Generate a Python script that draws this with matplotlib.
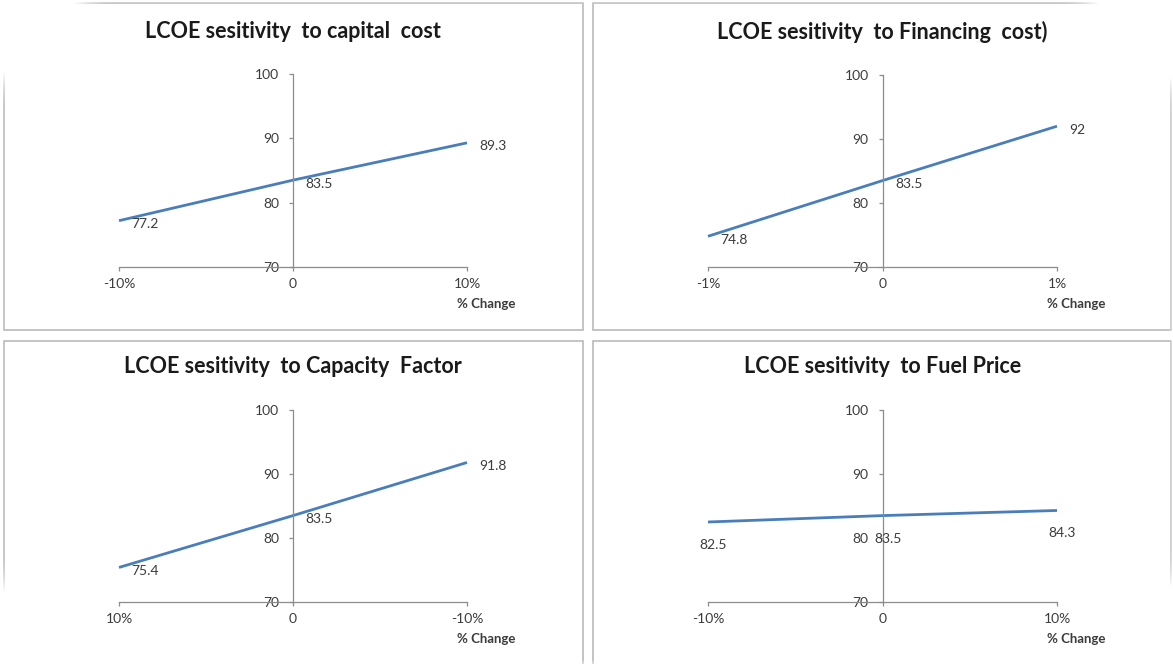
"""
LCOE sensitivity panels
"""
import matplotlib
matplotlib.use("Agg")
import matplotlib.pyplot as plt
from matplotlib.patches import Rectangle
import numpy as np

titles = ["LCOE sesitivity  to capital  cost",
          "LCOE sesitivity  to Financing  cost)",
          "LCOE sesitivity  to Capacity  Factor",
          "LCOE sesitivity  to Fuel Price"]
xlabels_cap = ["-10%", "0", "10%"]
xlabels_fin = ["-1%", "0", "1%"]
xlabels_cf = ["10%", "0", "-10%"]
xlabels_fuel = ["-10%", "0", "10%"]
lcoe_cap = [77.2, 83.5, 89.3]
lcoe_fin = [74.8, 83.5, 92]
lcoe_cf = [75.4, 83.5, 91.8]
lcoe_fuel = [82.5, 83.5, 84.3]
yticks = [70, 80, 90, 100]

W, H = 1173, 664
plt.rcParams['font.family'] = ['Lato', 'DejaVu Sans']

fig = plt.figure(figsize=(W / 100, H / 100), dpi=100)
fig.patch.set_facecolor("white")

# panel frames, in pixels (x0, y0 from top, x1, y1)
frames = [(4, 3, 582.5, 330), (593, 3, 1171, 330),
          (4, 341, 582.5, 700), (593, 341, 1171, 700)]
for x0, y0, x1, y1 in frames:
    fig.patches.append(Rectangle((x0 / W, 1 - y1 / H), (x1 - x0) / W, (y1 - y0) / H,
                                 transform=fig.transFigure, fill=False,
                                 edgecolor="#b4b4b4", linewidth=1.1))

# plot areas: left px, right px, y of 70, y of 100
areas = [(119, 467, 267, 74), (708, 1057, 267, 75),
         (119, 467, 602, 410), (708, 1057, 602, 410)]
panels = [(lcoe_cap, xlabels_cap, "right"),
          (lcoe_fin, xlabels_fin, "right"),
          (lcoe_cf, xlabels_cf, "right"),
          (lcoe_fuel, xlabels_fuel, "below")]

for (l, r, yb, yt), title, (vals, xl, lab_pos) in zip(areas, titles, panels):
    ax = fig.add_axes([l / W, 1 - yb / H, (r - l) / W, (yb - yt) / H])
    ax.set_facecolor("none")
    xs = [-1, 0, 1]
    ax.plot(xs, vals, color="#4a7ebb", linewidth=2.0, solid_capstyle="butt",
            clip_on=False)
    ax.set_xlim(-1, 1)
    ax.set_ylim(70, 100)
    ax.spines["top"].set_visible(False)
    ax.spines["right"].set_visible(False)
    ax.spines["left"].set_position(("data", 0))
    for s in ("left", "bottom"):
        ax.spines[s].set_color("#8c8c8c")
        ax.spines[s].set_linewidth(0.9)
    ax.set_yticks(yticks)
    ax.set_yticklabels([str(v) for v in yticks])
    ax.set_xticks(xs)
    ax.set_xticklabels(xl)
    ax.tick_params(axis="y", direction="out", length=3, width=0.9,
                   color="#8c8c8c", labelsize=10, labelcolor="#3c3c3c", pad=7)
    ax.tick_params(axis="x", direction="out", length=3, width=0.9,
                   color="#8c8c8c", labelsize=10, labelcolor="#3c3c3c", pad=5)
    ax.text(0.5, 1 + 43 / (yb - yt), title, transform=ax.transAxes,
            ha="center", va="center", fontsize=15.5, fontweight="bold",
            color="#1a1a1a")
    ax.annotate("% Change", xy=(1, 0), xycoords="axes fraction",
                xytext=(-7, -26.5), textcoords="offset points",
                ha="left", va="center", fontsize=9.5, fontweight="bold",
                color="#3c3c3c")
    for x, v in zip(xs, vals):
        if lab_pos == "right":
            ax.annotate(f"{v:g}", xy=(x, v), xytext=(9, -2.5),
                        textcoords="offset points", ha="left", va="center",
                        fontsize=10, color="#3c3c3c", annotation_clip=False)
        else:
            ax.annotate(f"{v:g}", xy=(x, v), xytext=(4, -16.5),
                        textcoords="offset points", ha="center", va="center",
                        fontsize=10, color="#3c3c3c", annotation_clip=False)

# soft rounded corners over the whole picture
yy, xx = np.mgrid[0:H, 0:W] + 0.5
rad = 115.0
cx = np.clip(xx, rad, W - rad)
cy = np.clip(yy, rad, H - rad)
dist = np.hypot(xx - cx, yy - cy) - rad
alpha = np.clip(dist / 8.0 + 0.5, 0, 1)
mask = np.ones((H, W, 4))
mask[..., 3] = alpha
ov = fig.add_axes([0, 0, 1, 1], zorder=10)
ov.imshow(mask, aspect="auto", interpolation="nearest", extent=(0, W, H, 0))
ov.set_axis_off()

fig.savefig("out.png", dpi=100, facecolor="white")
